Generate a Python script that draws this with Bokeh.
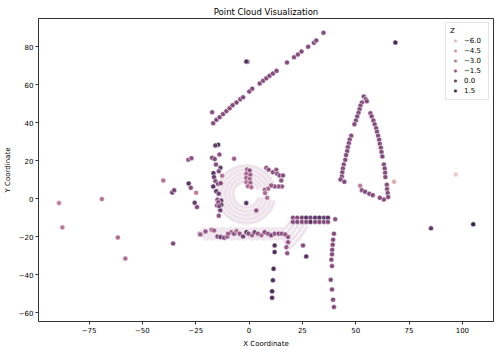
import numpy as np
from bokeh.plotting import figure
from bokeh.models import Range1d, FixedTicker, Legend, LegendItem, ColumnDataSource
from bokeh.embed import file_html
from bokeh.resources import INLINE

# ---------------- data ----------------
diag_x = [-17.3, -16.8, -15.3, -13.8, -12.2, -10.6, -9.1, -7.7, -5.9, -4.1, -2.8, 0.1, 1.5, 5.0, 6.6,
          8.1, 9.6, 11.2, 12.9, 17.8, 21.1, 22.9, 24.6, 27.7, 30.4, 31.5, 34.9, -0.8, -1.3, 68.6]
diag_y = [45.6, 39.8, 41.6, 43.0, 44.6, 46.2, 47.7, 49.3, 50.7, 52.5, 53.5, 56.5, 58.0, 60.7, 62.2,
          63.5, 64.8, 66.0, 67.4, 71.8, 74.6, 76.0, 77.6, 80.1, 82.2, 83.4, 87.5, 72.2, 72.3, 82.3]
diag_z = [-1.3] + [-1.0] * 26 + [1.0, 0.5, 1.0]

tri_x = [53.8, 54.7, 55.2, 52.9, 52.2, 51.8, 51.3, 50.7, 50.1, 49.4, 47.9, 47.2, 46.8, 46.3, 46.0, 45.5,
         45.1, 44.4, 44.0, 43.7, 43.5, 42.9, 44.7,
         56.9, 57.5, 58.3, 58.9, 59.6, 60.0, 60.5, 61.0, 61.3, 61.8, 62.1, 62.5, 63.2, 63.6, 63.8, 63.9,
         64.6, 64.7, 65.0, 65.2, 63.2, 61.3,
         52.1, 52.9, 54.4, 56.4, 58.0, 68.0, 96.9, 85.3, 105.1]
tri_y = [53.9, 52.5, 51.4, 50.7, 49.0, 47.2, 45.3, 43.4, 41.3, 39.3, 33.2, 31.2, 29.3, 27.2, 25.1, 23.0,
         20.5, 18.1, 16.0, 13.9, 11.7, 10.2, 8.9,
         45.1, 43.4, 41.3, 39.3, 37.2, 35.3, 33.2, 31.1, 29.0, 26.9, 24.7, 22.3, 18.1, 16.0, 13.7, 11.4,
         7.4, 5.1, 3.0, 0.9, -0.4, 0.5,
         6.8, 4.5, 3.7, 2.6, 1.9, 8.9, 12.8, -15.6, -13.5]
tri_z = [-1.0] * 45 + [-3.5, -1.2, -1.0, -1.0, -1.0, -5.5, -6.8, 0.3, 1.5]

left_x = [-89.1, -87.5, -69.0, -61.5, -58.0, -40.2, -36.0, -35.1, -35.6, -28.5, -27.0, -28.3, -27.3,
          -24.8, -25.5, -24.4, -22.9]
left_y = [-2.3, -15.1, -0.2, -20.4, -31.5, 9.6, 3.3, 4.5, -23.6, 20.5, 21.4, 8.1, 5.8,
          3.2, -2.1, -4.4, -18.8]
left_z = [-3.5, -3.3, -3.0, -2.8, -2.8, -3.0, 0.0, -0.5, -1.0, -2.0, -1.5, 0.5, -1.0,
          -3.5, 0.0, -1.0, -2.0]

core_x = [-14.5, -15.8, -17.3, -16.1, -13.9, -13.4, -14.2, -12.6, -16.7, -16.4, -15.8, -16.8, -14.5,
          -13.3, -15.4, -14.2, -14.8, -13.0, -7.0, -15.5, -15.0, -13.5, -14.2, -14.4, -13.0, -14.0,
          -1.3, 3.4,
          -0.9, 0.3, -1.3, 0.6, -1.3, 0.3, -1.3, 0.6, -0.5, 1.1,
          8.1, 9.2, 11.2, 12.8, 13.2, 14.3, 15.9, 15.1, 15.4, 13.9, 12.0, 10.4, 8.9, 7.3, 7.5, 8.5]
core_y = [28.5, 28.1, 21.6, 20.9, 23.3, 16.3, 14.5, 12.1, 13.5, 11.4, 9.3, 6.5, 7.9,
          8.2, 4.0, 2.6, -0.5, -0.9, 21.1, 18.0, -3.5, -6.0, -9.0, -1.8, -3.2, -3.9,
          -2.3, -6.2,
          15.4, 14.9, 13.2, 12.6, 10.9, 10.5, 8.7, 8.4, 6.6, 6.1,
          16.3, 15.3, 14.0, 15.3, 13.2, 12.3, 12.3, 9.6, 6.5, 6.5, 6.5, 7.0, 5.3, 4.7, 3.0, 0.5]
core_z = [1.0, 0.0, -0.5, -1.0, -1.5, 0.0, -1.0, -3.0, 0.5, 0.0, -1.0, 0.5, -0.5,
          -1.0, 0.0, -0.5, -1.0, -0.5, -2.0, -1.0, -1.0, 0.0, -1.5, -1.5, 0.3, -1.0,
          0.5, -1.5,
          -2.0, -1.5, -2.5, -2.0, -2.0, -2.5, -3.0, -2.0, -2.5, -3.0,
          -1.5, -1.5, -1.2, -1.5, -1.2, -1.5, -1.2, -1.5, -1.2, -1.5, -1.5, -1.8, -2.0, -2.5, -2.5, -3.0]

band_x = [-23.1, -20.4, -17.6, -16.4, -14.8, -13.3, -11.7, -10.2, -8.3, -7.0, -5.9, -4.4, -2.8, -1.2,
          -0.2, 1.4, 2.6, 4.2, 5.8, 7.3, 8.9, 10.4, 12.0, 13.9, 15.4, 17.0, 18.3, -22.6, -9.8]
band_y = [-18.4, -17.2, -16.3, -16.7, -19.9, -20.2, -20.5, -19.9, -17.6, -18.4, -17.0, -18.4, -19.9,
          -17.6, -18.4, -19.3, -17.6, -18.4, -19.3, -17.6, -18.4, -19.3, -18.4, -18.4, -18.4, -18.8,
          -20.2, -18.8, -18.4]
band_z = [-2.0, -1.5, -3.0, -2.0, -1.0, 0.0, -1.0, -1.5, -2.0, -1.0, -3.0, -1.5, -0.5, 0.5,
          -1.0, -2.0, -0.5, -1.5, -2.5, -1.0, -1.5, -0.5, -1.5, -1.0, -1.2, -1.5, -1.5, -2.5, -2.0]

lower_x = [12.0, 12.0, 11.5, 11.2, 10.8, 10.8,
           20.6, 22.6, 24.8, 26.8, 28.8, 31.0, 33.0, 35.1, 37.0, 40.4,
           20.6, 22.6, 24.8, 26.8, 28.8, 31.0, 33.0, 35.1, 37.0,
           18.3, 17.5, 17.9, 25.3, 26.8,
           39.8, 39.4, 39.2, 39.0, 38.9, 38.6, 38.9, 38.3, 38.9, 39.4, 39.8]
lower_y = [-24.6, -28.1, -36.9, -43.0, -48.8, -52.2,
           -10.0, -10.0, -10.0, -10.0, -10.0, -10.0, -10.0, -10.0, -10.0, -10.8,
           -12.2, -12.2, -12.2, -12.2, -12.2, -12.2, -12.2, -12.2, -12.2,
           -22.9, -25.5, -28.7, -24.6, -30.4,
           -18.4, -21.6, -24.2, -26.9, -29.3, -32.1, -35.5, -42.7, -47.8, -53.2, -57.1]
lower_z = [0.5, 0.8, 1.0, 0.8, 1.0, 0.8,
           -1.0, -1.0, -0.5, 0.5, -0.5, 0.5, 0.5, 0.0, 0.5, -1.2,
           -1.0, -1.0, -1.0, -1.0, 0.5, -1.0, -1.0, -1.0, -1.0,
           -1.5, -1.8, -1.5, -1.0, 0.5,
           -1.0, -1.0, -1.0, -1.0, -1.0, -1.0, -1.0, -1.0, -1.0, -1.0, -1.0]

# dense lidar rings (drawn as light scan-ring bands)
ring_cx, ring_cy = -1.3, 2.3
ring_radii = [5.3, 7.1, 8.9, 10.7, 12.5]
ring_start, ring_end = 20, 348
fan_radii = [23.5, 25.5, 27.5, 29.5, 31.5]
fan_start, fan_end = -52, -27
band_light_x = [-21, -18, -15, -12, -9, -6, -3, 0, 3, 6, 9, 12, 15, -20, -17, -14, -11, -8, -5, -2, 1, 4, 7, 10, 13, 16]
band_light_y = [-17, -17, -17, -17, -17, -17, -17, -17, -17, -17, -17, -17, -17,
                -20, -20, -20, -20, -20, -20, -20, -20, -20, -20, -20, -20, -20]

legend_levels = [-6.0, -4.5, -3.0, -1.5, 0.0, 1.5]
legend_labels = ["\u22126.0", "\u22124.5", "\u22123.0", "\u22121.5", "0.0", "1.5"]
x_ticks = [-75, -50, -25, 0, 25, 50, 75, 100]
x_tick_labels = ["\u221275", "\u221250", "\u221225", "0", "25", "50", "75", "100"]
y_ticks = [-60, -40, -20, 0, 20, 40, 60, 80]
y_tick_labels = ["\u221260", "\u221240", "\u221220", "0", "20", "40", "60", "80"]

# ---------------- colour map (seaborn default cubehelix) ----------------
Z_MIN, Z_MAX = -7.0, 2.0


def cmap(z):
    t = (np.clip(z, Z_MIN, Z_MAX) - Z_MIN) / (Z_MAX - Z_MIN)
    x = 0.85 - 0.70 * t
    phi = 2 * np.pi * (0.4 * x)
    a = 0.8 * x * (1 - x) / 2
    r = x + a * (-0.14861 * np.cos(phi) + 1.78277 * np.sin(phi))
    g = x + a * (-0.29227 * np.cos(phi) - 0.90649 * np.sin(phi))
    b = x + a * (1.97294 * np.cos(phi))
    rgb = [int(round(255 * min(max(c, 0), 1))) for c in (r, g, b)]
    return "#%02x%02x%02x" % tuple(rgb)


FONT = "DejaVu Sans"
p = figure(width=500, height=350, output_backend="svg", toolbar_location=None,
           x_range=Range1d(-98.7, 114.6), y_range=Range1d(-64.7, 95.0),
           min_border_left=37, min_border_right=7, min_border_top=18, min_border_bottom=29,
           title="Point Cloud Visualization")
p.title.align = "center"
p.title.text_font = FONT
p.title.text_font_size = "8.5px"
p.title.text_font_style = "normal"
p.title.text_color = "black"
p.title.standoff = 3
p.xgrid.visible = False
p.ygrid.visible = False
p.outline_line_color = "#333333"
p.outline_line_width = 1

# light scan rings
for r in ring_radii:
    p.annular_wedge(x=ring_cx, y=ring_cy, inner_radius=r, outer_radius=r + 1.8,
                    start_angle=np.deg2rad(ring_start), end_angle=np.deg2rad(ring_end),
                    fill_color="#f2e9f0", line_color=None)
    p.annular_wedge(x=ring_cx, y=ring_cy, inner_radius=r + 0.7, outer_radius=r + 1.1,
                    start_angle=np.deg2rad(ring_start), end_angle=np.deg2rad(ring_end),
                    fill_color="#e9dce7", line_color=None)
for r in fan_radii:
    p.annular_wedge(x=ring_cx, y=ring_cy, inner_radius=r, outer_radius=r + 1.5,
                    start_angle=np.deg2rad(fan_start), end_angle=np.deg2rad(fan_end),
                    fill_color="#efe4ed", line_color=None)
p.scatter(band_light_x, band_light_y, size=8, fill_color="#f1e7ef", line_color=None)

groups = [(band_x, band_y, band_z), (core_x, core_y, core_z), (left_x, left_y, left_z),
          (lower_x, lower_y, lower_z), (diag_x, diag_y, diag_z), (tri_x, tri_y, tri_z)]
for gx, gy, gz in groups:
    src = ColumnDataSource(dict(x=gx, y=gy, c=[cmap(z) for z in gz]))
    p.scatter("x", "y", source=src, size=5, fill_color="c", line_color="white", line_width=0.5)

# legend
items = []
for lev, lab in zip(legend_levels, legend_labels):
    rr = p.scatter(x=[np.nan], y=[np.nan], size=5.5, fill_color=cmap(lev),
                   line_color="white", line_width=0.5)
    items.append(LegendItem(label=lab, renderers=[rr]))
legend = Legend(items=items, location="top_right", title="Z")
legend.title_text_font = FONT
legend.title_text_font_size = "7px"
legend.title_text_font_style = "normal"
legend.title_text_color = "black"
legend.title_standoff = 1
legend.label_text_font = FONT
legend.label_text_font_size = "7px"
legend.label_text_color = "black"
legend.label_height = 9
legend.glyph_height = 9
legend.glyph_width = 10
legend.spacing = 1
legend.padding = 4
legend.margin = 4
legend.label_standoff = 4
legend.border_line_color = "#cccccc"
legend.background_fill_alpha = 0.8
p.add_layout(legend)

for ax, ticks, labs, name in ((p.xaxis[0], x_ticks, x_tick_labels, "X Coordinate"),
                              (p.yaxis[0], y_ticks, y_tick_labels, "Y Coordinate")):
    ax.ticker = FixedTicker(ticks=ticks)
    ax.major_label_overrides = {t: l for t, l in zip(ticks, labs)}
    ax.axis_label = name
    ax.axis_label_text_font = FONT
    ax.axis_label_text_font_size = "7px"
    ax.axis_label_text_font_style = "normal"
    ax.axis_label_text_color = "black"
    ax.axis_label_standoff = 4
    ax.major_label_text_font = FONT
    ax.major_label_text_font_size = "7px"
    ax.major_label_text_color = "black"
    ax.major_label_standoff = 2
    ax.major_tick_out = 3
    ax.major_tick_in = 0
    ax.minor_tick_line_color = None
    ax.axis_line_color = "#333333"
    ax.major_tick_line_color = "#333333"

open("out.html", "w").write(file_html(p, INLINE))
